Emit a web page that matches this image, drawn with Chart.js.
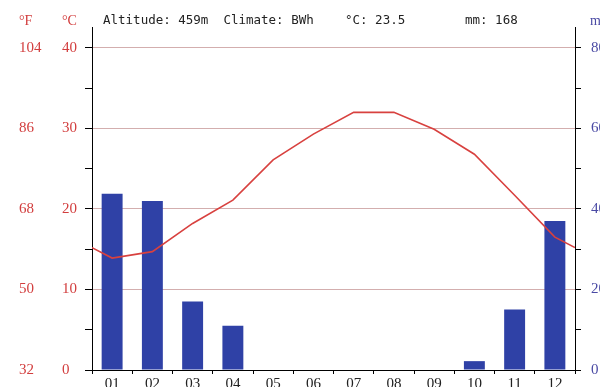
<!DOCTYPE html>
<html>
<head>
<meta charset="utf-8">
<script src="https://cdn.jsdelivr.net/npm/chart.js@4/dist/chart.umd.min.js"></script>
<style>
  html, body { margin: 0; padding: 0; background: #fff; }
  #wrap { width: 600px; height: 389px; position: relative; }
</style>
</head>
<body>
<div id="wrap"><canvas id="c" width="600" height="389"></canvas></div>
<script>
// Station data
const months = ['01', '02', '03', '04', '05', '06', '07', '08', '09', '10', '11', '12'];
const tempC = [13.9, 14.7, 18.2, 21.1, 26.1, 29.3, 32.0, 32.0, 29.9, 26.8, 21.7, 16.5];
const precipMm = [43.8, 42.0, 17.0, 11.0, 0, 0, 0, 0, 0, 2.2, 15.0, 37.0];
// Temperature where the curve meets the year boundary (Dec -> Jan), both edges
const tempYearEdge = 15.2;
const fahrenheitTicks = [32, 50, 68, 86, 104];
const altitude = '459m';
const climate = 'BWh';

// Axis range: the axes run a little above the 40 °C line
const Y_TOP = 42.6;

const SERIF = '"Liberation Serif", "DejaVu Serif", serif';
const MONO = '"DejaVu Sans Mono", "Liberation Mono", monospace';
const RED = '#d23d3d';
const BLUE = '#4a4aa4';
const GRID = '#d3aeae';
const BAR = '#2f41a6';
const LINE = '#d8413f';

const meanTemp = (tempC.reduce((a, b) => a + b, 0) / tempC.length).toFixed(1);
const annualMm = Math.round(precipMm.reduce((a, b) => a + b, 0));

// Temperature curve on a continuous month axis (0..12), months at their centres
const linePoints = [{ x: 0, y: tempYearEdge }]
  .concat(tempC.map((t, i) => ({ x: i + 0.5, y: t })))
  .concat([{ x: 12, y: tempYearEdge }]);

// Header line and unit captions above the axes
const headerPlugin = {
  id: 'header',
  afterDraw(chart) {
    const ctx = chart.ctx;
    const yf = chart.scales.yf, yc = chart.scales.y, ym = chart.scales.ymm;
    ctx.save();
    ctx.textBaseline = 'middle';
    ctx.textAlign = 'left';
    ctx.font = '14px ' + SERIF;
    ctx.fillStyle = RED;
    ctx.fillText('°F', yf.left, 21);
    ctx.fillText('°C', yc.left, 21);
    ctx.fillStyle = BLUE;
    ctx.fillText('mm', ym.left + 15, 21);
    ctx.font = '12.5px ' + MONO;
    ctx.fillStyle = '#222';
    ctx.fillText('Altitude: ' + altitude + '  Climate: ' + climate, 103, 21);
    ctx.fillText('°C: ' + meanTemp, 345, 21);
    ctx.fillText('mm: ' + annualMm, 465, 21);
    ctx.restore();
  }
};

new Chart(document.getElementById('c'), {
  type: 'bar',
  data: {
    labels: months,
    datasets: [
      {
        type: 'line',
        label: '°C',
        data: linePoints,
        xAxisID: 'xl',
        yAxisID: 'y',
        borderColor: LINE,
        borderWidth: 1.6,
        pointRadius: 0,
        tension: 0,
        order: 0
      },
      {
        type: 'bar',
        label: 'mm',
        data: precipMm,
        xAxisID: 'x',
        yAxisID: 'ymm',
        backgroundColor: BAR,
        grouped: false,
        categoryPercentage: 1,
        barPercentage: 0.52,
        order: 1
      }
    ]
  },
  options: {
    responsive: false,
    animation: false,
    layout: { padding: { top: 27, left: 19, right: 0, bottom: 0 } },
    plugins: { legend: { display: false }, tooltip: { enabled: false } },
    scales: {
      x: {
        type: 'category',
        position: 'bottom',
        offset: true,
        grid: { offset: true, drawOnChartArea: false, tickLength: 4, tickColor: '#000' },
        border: { color: '#000' },
        ticks: { font: { family: SERIF, size: 15 }, color: '#222', padding: 1, maxRotation: 0, autoSkip: false },
        afterFit(s) { s.height = 17; }
      },
      xl: {
        type: 'linear',
        display: false,
        offset: false,
        grid: { offset: false },
        min: 0,
        max: 12
      },
      y: {
        position: 'left',
        weight: 0,
        min: 0,
        max: Y_TOP,
        ticks: {
          stepSize: 5,
          includeBounds: false,
          autoSkip: false,
          crossAlign: 'far',
          color: RED,
          font: { family: SERIF, size: 15 },
          callback: v => (v % 10 === 0 ? String(v) : '')
        },
        grid: {
          color: c => (c.tick && c.tick.value > 0 && c.tick.value % 10 === 0 ? GRID : 'rgba(0,0,0,0)'),
          tickColor: '#000',
          tickLength: 7
        },
        border: { color: '#000' },
        afterFit(s) { s.width = 30; }
      },
      yf: {
        position: 'left',
        weight: 1,
        min: 32,
        max: 32 + 1.8 * Y_TOP,
        afterBuildTicks(s) { s.ticks = fahrenheitTicks.map(v => ({ value: v })); },
        ticks: { crossAlign: 'far', color: RED, font: { family: SERIF, size: 15 }, autoSkip: false },
        grid: { display: false },
        border: { display: false },
        afterFit(s) { s.width = 43; }
      },
      ymm: {
        position: 'right',
        min: 0,
        max: 2 * Y_TOP,
        ticks: {
          stepSize: 10,
          includeBounds: false,
          autoSkip: false,
          color: BLUE,
          padding: 10,
          font: { family: SERIF, size: 15 },
          callback: v => (v % 20 === 0 ? String(v) : '')
        },
        grid: { drawOnChartArea: false, tickColor: '#000', tickLength: 6 },
        border: { color: '#000' },
        afterFit(s) { s.width = 25; }
      }
    }
  },
  plugins: [headerPlugin]
});
</script>
</body>
</html>
